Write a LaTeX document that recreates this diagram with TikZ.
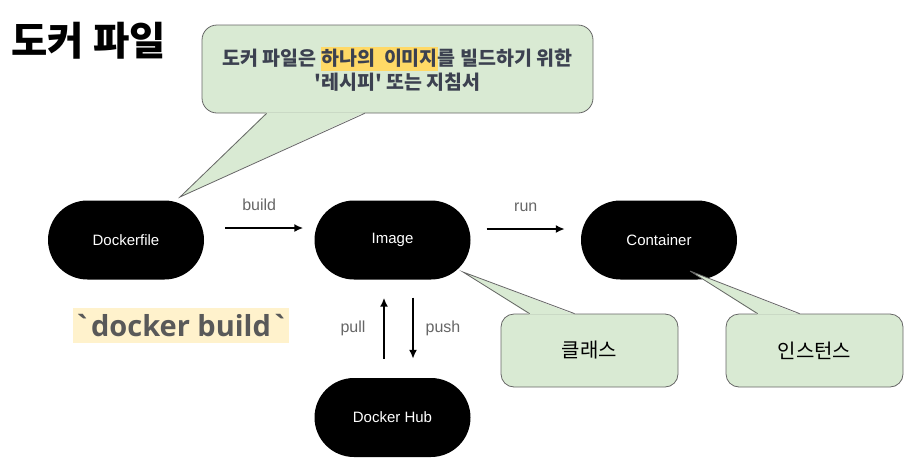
\documentclass[tikz,border=0pt]{standalone}
\usepackage{fontspec}
\setmainfont{Liberation Sans}
\newfontfamily\krfont{Noto Sans CJK KR}[Ligatures=TeXOff]
\newfontfamily\codefont{Open Sans}[Ligatures=TeXOff]
\usetikzlibrary{arrows.meta,positioning,calc}
\definecolor{notegreen}{HTML}{D9EAD3}
\definecolor{noteedge}{HTML}{666666}
\definecolor{labelgrey}{HTML}{666666}
\definecolor{inkc}{HTML}{3C4150}
\definecolor{hlyellow}{HTML}{FFD966}
\definecolor{hlpeach}{HTML}{FFF2CC}
\definecolor{codegrey}{HTML}{595959}
\newcommand{\hlmark}[1]{{\setlength{\fboxsep}{0pt}\colorbox{hlyellow}{\rule[-0.3em]{0pt}{1.28em}#1}}}

\begin{document}
\begin{tikzpicture}[x=1pt, y=-1pt,
  pill/.style={fill=black, rounded corners=39.5pt, minimum width=156pt, minimum height=79pt,
    inner sep=0pt, text=white, font=\fontsize{15}{17}\selectfont},
  note/.style={draw=noteedge, fill=notegreen, line width=0.8pt, rounded corners=13pt,
    minimum width=177pt, minimum height=73pt, font=\krfont\fontsize{20}{24}\selectfont},
  flow/.style={line width=2pt, -{Latex[length=9pt,width=8pt]}},
  verb/.style={text=labelgrey, font=\fontsize{16}{18}\selectfont}]
\useasboundingbox (0,0) rectangle (918,472);

% title and the command under the first stage
\node[anchor=west, font=\krfont\bfseries\fontsize{39.5}{42}\selectfont] (title) at (8,41) {도커 파일};
\node[fill=hlpeach, minimum width=216pt, minimum height=35pt, inner sep=0pt, text=codegrey,
  font=\codefont\bfseries\fontsize{29}{32}\selectfont] (cmd) at (181,325.5) {\char"60 docker build\char"60};

% ---- the four stages ----
\node[pill] (dockerfile) at (126,240) {Dockerfile};
\node[pill] (image)      at (392.5,240) {Image};
\node[pill] (container)  at (659,240) {Container};
\node[pill] (hub)        at (392.5,417.5) {Docker Hub};

\draw[flow, shorten <=21pt, shorten >=11pt] ([yshift=12pt]dockerfile.east) -- ([yshift=12pt]image.west)
  node[verb, midway, yshift=23pt] {build};
\draw[flow, shorten <=16pt, shorten >=16pt] ([yshift=11pt]image.east) -- ([yshift=11pt]container.west)
  node[verb, midway, yshift=22pt] {run};
\draw[flow, shorten <=19pt, shorten >=18pt] ([xshift=-8.5pt]hub.north) -- ([xshift=-8.5pt]image.south)
  node[verb, midway, xshift=-31pt] {pull};
\draw[flow, shorten <=18pt, shorten >=19pt] ([xshift=20.5pt]image.south) -- ([xshift=20.5pt]hub.north)
  node[verb, midway, xshift=30pt] {push};

% ---- speech notes ----
\node[note, minimum width=391pt, minimum height=88pt, rounded corners=15pt, text=inkc, align=center,
  font=\krfont\bfseries\fontsize{19.5}{24}\selectfont] (recipe) at (397.5,69)
  {도커 파일은 \hlmark{하나의~ 이미지}를 빌드하기 위한\\'레시피' 또는 지침서};
\node[note] (classnote) at (589.5,350.5) {클래스};
\node[note] (instnote)  at (814.5,350.5) {인스턴스};

\coordinate (recipetip) at (180,197);
\coordinate (classtip)  at (463,272);
\coordinate (insttip)   at (690,271);
\fill[notegreen] ([xshift=65pt,yshift=1pt]recipe.south west) -- (recipetip) -- ([xshift=163pt,yshift=1pt]recipe.south west) -- cycle;
\draw[noteedge, line width=0.8pt] ([xshift=65pt]recipe.south west) -- (recipetip) -- ([xshift=163pt]recipe.south west);
\fill[notegreen] ([xshift=29pt,yshift=-1pt]classnote.north west) -- (classtip) -- ([xshift=74pt,yshift=-1pt]classnote.north west) -- cycle;
\draw[noteedge, line width=0.8pt] ([xshift=29pt]classnote.north west) -- (classtip) -- ([xshift=74pt]classnote.north west);
\fill[notegreen] ([xshift=32pt,yshift=-1pt]instnote.north west) -- (insttip) -- ([xshift=74pt,yshift=-1pt]instnote.north west) -- cycle;
\draw[noteedge, line width=0.8pt] ([xshift=32pt]instnote.north west) -- (insttip) -- ([xshift=74pt]instnote.north west);
\end{tikzpicture}
\end{document}
